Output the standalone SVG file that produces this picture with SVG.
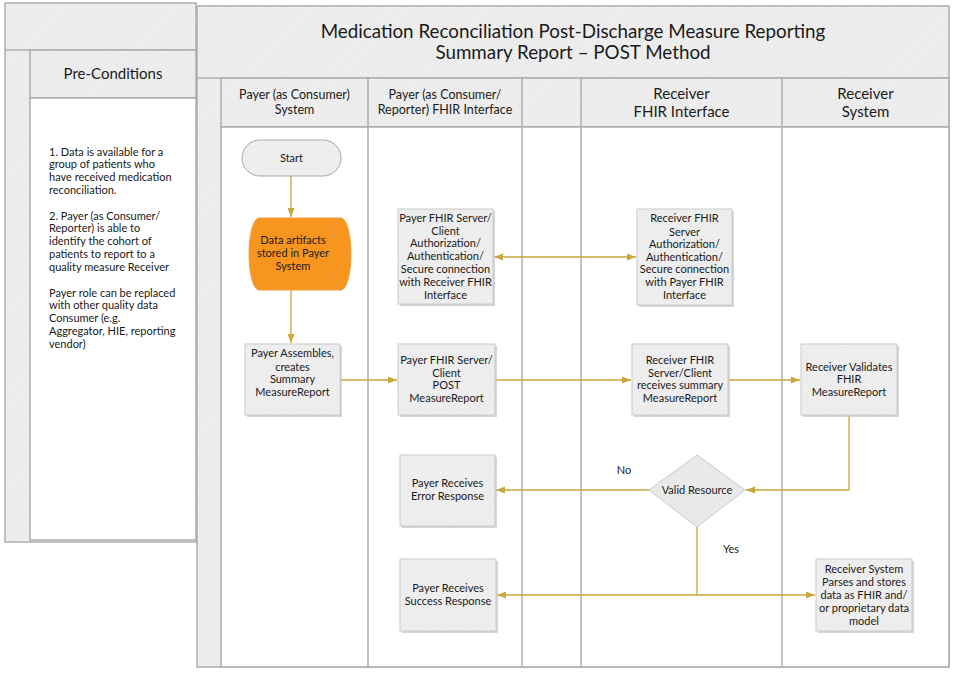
<svg xmlns="http://www.w3.org/2000/svg" width="955" height="675" viewBox="0 0 955 675">
<defs>
<pattern id="hatch" patternUnits="userSpaceOnUse" width="4" height="4" patternTransform="rotate(45)">
<rect width="4" height="4" fill="#EEEEEE"/>
<line x1="0" y1="0" x2="0" y2="4" stroke="#E7E7E7" stroke-width="1.5"/>
</pattern>
<pattern id="hatchBox" patternUnits="userSpaceOnUse" width="4" height="4" patternTransform="rotate(45)">
<rect width="4" height="4" fill="#EFEFEF"/>
<line x1="0" y1="0" x2="0" y2="4" stroke="#E8E8E8" stroke-width="1.5"/>
</pattern>
<marker id="arr" markerUnits="userSpaceOnUse" markerWidth="10" markerHeight="8" refX="9" refY="4" orient="auto-start-reverse">
<path d="M0,0.5 L9,4 L0,7.5 z" fill="#C9A73E"/>
</marker>
</defs>
<style>
text{font-family:Lato,"Open Sans","Liberation Sans",sans-serif;fill:#1A1A1A;}
.band{fill:url(#hatch);stroke:#ABAFAF;stroke-width:1.5;}
.body{fill:#FFFFFF;stroke:#ABAFAF;stroke-width:1.5;}
.lane{stroke:#ABAFAF;stroke-width:1.5;fill:none;}
.title{font-size:18.8px;text-anchor:middle;}
.lh{font-size:12.5px;text-anchor:middle;}
.lhb{font-size:15px;text-anchor:middle;}
.pre{font-size:11px;}
.box{fill:url(#hatchBox);stroke:#C9C9C9;stroke-width:1;}
.shadow{fill:#C4C4C4;opacity:0.7;}
.nt{font-size:11px;text-anchor:middle;}
.lbl{font-size:11px;text-anchor:middle;}
.conn{stroke:#C9A73E;stroke-width:1.3;fill:none;}
</style>

<g id="preconditions-panel">
<rect class="band" x="5" y="3" width="191" height="539"/>
<line class="lane" x1="5" y1="50" x2="196" y2="50"/>
<rect class="band" x="30" y="50" width="166" height="48"/>
<rect class="body" x="30" y="98" width="166" height="442"/>
<text x="113" y="78.5" style="font-size:15px;text-anchor:middle;">Pre-Conditions</text>
<text class="pre" x="49" y="155.5">1. Data is available for a</text>
<text class="pre" x="49" y="168.3">group of patients who</text>
<text class="pre" x="49" y="181">have received medication</text>
<text class="pre" x="49" y="193.8">reconciliation.</text>
<text class="pre" x="49" y="219.5">2. Payer (as Consumer/</text>
<text class="pre" x="49" y="232.3">Reporter) is able to</text>
<text class="pre" x="49" y="245">identify the cohort of</text>
<text class="pre" x="49" y="257.8">patients to report to a</text>
<text class="pre" x="49" y="270.5">quality measure Receiver</text>
<text class="pre" x="49" y="296.5">Payer role can be replaced</text>
<text class="pre" x="49" y="309.3">with other quality data</text>
<text class="pre" x="49" y="322">Consumer (e.g.</text>
<text class="pre" x="49" y="334.8">Aggregator, HIE, reporting</text>
<text class="pre" x="49" y="347.5">vendor)</text>
</g>

<g id="main-panel">
<rect class="band" x="197" y="6" width="752" height="661"/>
<line class="lane" x1="197" y1="78" x2="949" y2="78"/>
<rect class="band" x="221" y="78" width="728" height="49"/>
<rect class="body" x="221" y="127" width="728" height="540"/>
<line class="lane" x1="368" y1="78" x2="368" y2="667"/>
<line class="lane" x1="522" y1="78" x2="522" y2="667"/>
<line class="lane" x1="581" y1="78" x2="581" y2="667"/>
<line class="lane" x1="782" y1="78" x2="782" y2="667"/>
<text class="title" x="573" y="37.5">Medication Reconciliation Post-Discharge Measure Reporting</text>
<text class="title" x="573" y="59">Summary Report – POST Method</text>
<text class="lh" x="294.5" y="98.5">Payer (as Consumer)</text>
<text class="lh" x="294.5" y="113.8">System</text>
<text class="lh" x="445" y="98.5">Payer (as Consumer/</text>
<text class="lh" x="445" y="113.8">Reporter) FHIR Interface</text>
<text class="lhb" x="681.5" y="98.5">Receiver</text>
<text class="lhb" x="681.5" y="117">FHIR Interface</text>
<text class="lhb" x="865.5" y="98.5">Receiver</text>
<text class="lhb" x="865.5" y="117">System</text>
</g>

<g id="connectors">
<line class="conn" x1="291" y1="176" x2="291" y2="217" marker-end="url(#arr)"/>
<line class="conn" x1="291" y1="290" x2="291" y2="343" marker-end="url(#arr)"/>
<line class="conn" x1="494" y1="257" x2="636" y2="257" marker-start="url(#arr)" marker-end="url(#arr)"/>
<line class="conn" x1="340" y1="380" x2="397" y2="380" marker-end="url(#arr)"/>
<line class="conn" x1="495" y1="380" x2="631" y2="380" marker-end="url(#arr)"/>
<line class="conn" x1="728" y1="380" x2="800" y2="380" marker-end="url(#arr)"/>
<polyline class="conn" points="849,415 849,490 746,490" marker-end="url(#arr)"/>
<line class="conn" x1="650" y1="490" x2="496" y2="490" marker-end="url(#arr)"/>
<line class="conn" x1="697" y1="527" x2="697" y2="595"/>
<line class="conn" x1="697" y1="595" x2="497" y2="595" marker-end="url(#arr)"/>
<line class="conn" x1="697" y1="595" x2="815" y2="595" marker-end="url(#arr)"/>
<text class="lbl" x="624" y="474">No</text>
<text class="lbl" x="731" y="553">Yes</text>
</g>

<g id="start">
<rect x="242" y="140" width="99" height="36" rx="18" ry="18" fill="#EEEEEE" stroke="#A8A8A8" stroke-width="1"/>
<text class="nt" x="291.5" y="162">Start</text>
</g>

<g id="data-artifacts">
<path d="M259,218 H341 A10,36 0 0 1 341,290 H259 A10,36 0 0 1 259,218 Z" fill="#F7951F" stroke="#F0A040" stroke-width="1"/>
<path d="M341,218 A10,36 0 0 0 341,290" fill="none" stroke="#E39A48" stroke-width="1"/>
<text class="nt" x="293" y="244">Data artifacts</text>
<text class="nt" x="293" y="257">stored in Payer</text>
<text class="nt" x="293" y="270">System</text>
</g>

<g id="payer-auth">
<rect class="shadow" x="400" y="211" width="95" height="95"/>
<rect class="box" x="398" y="209" width="95" height="95"/>
<text class="nt" x="445.5" y="222.3">Payer FHIR Server/</text>
<text class="nt" x="445.5" y="235">Client</text>
<text class="nt" x="445.5" y="247.3">Authorization/</text>
<text class="nt" x="445.5" y="260">Authentication/</text>
<text class="nt" x="445.5" y="273">Secure connection</text>
<text class="nt" x="445.5" y="286">with Receiver FHIR</text>
<text class="nt" x="445.5" y="298.7">Interface</text>
</g>

<g id="receiver-auth">
<rect class="shadow" x="639" y="211" width="95" height="96"/>
<rect class="box" x="637" y="209" width="95" height="96"/>
<text class="nt" x="684.5" y="222.3">Receiver FHIR</text>
<text class="nt" x="684.5" y="235.7">Server</text>
<text class="nt" x="684.5" y="248">Authorization/</text>
<text class="nt" x="684.5" y="260.7">Authentication/</text>
<text class="nt" x="684.5" y="273.3">Secure connection</text>
<text class="nt" x="684.5" y="286">with Payer FHIR</text>
<text class="nt" x="684.5" y="299.3">Interface</text>
</g>

<g id="payer-assembles">
<rect class="shadow" x="247" y="346" width="95" height="71"/>
<rect class="box" x="245" y="344" width="95" height="71"/>
<text class="nt" x="292.5" y="357">Payer Assembles,</text>
<text class="nt" x="292.5" y="370.7">creates</text>
<text class="nt" x="292.5" y="383.3">Summary</text>
<text class="nt" x="292.5" y="396.3">MeasureReport</text>
</g>

<g id="payer-post">
<rect class="shadow" x="400" y="346" width="97" height="71"/>
<rect class="box" x="398" y="344" width="97" height="71"/>
<text class="nt" x="446.5" y="364">Payer FHIR Server/</text>
<text class="nt" x="446.5" y="376.7">Client</text>
<text class="nt" x="446.5" y="389.3">POST</text>
<text class="nt" x="446.5" y="402.3">MeasureReport</text>
</g>

<g id="receiver-receives">
<rect class="shadow" x="634" y="346" width="96" height="71"/>
<rect class="box" x="632" y="344" width="96" height="71"/>
<text class="nt" x="680" y="364">Receiver FHIR</text>
<text class="nt" x="680" y="376.7">Server/Client</text>
<text class="nt" x="680" y="389.3">receives summary</text>
<text class="nt" x="680" y="402.3">MeasureReport</text>
</g>

<g id="receiver-validates">
<rect class="shadow" x="803" y="346" width="96" height="71"/>
<rect class="box" x="801" y="344" width="96" height="71"/>
<text class="nt" x="849" y="370.7">Receiver Validates</text>
<text class="nt" x="849" y="383.3">FHIR</text>
<text class="nt" x="849" y="396.3">MeasureReport</text>
</g>

<g id="valid-resource">
<polygon points="697,455 745,490 697,527 649,490" fill="#E9E9E9" stroke="#C9C9C9" stroke-width="1"/>
<text class="nt" x="697" y="494">Valid Resource</text>
</g>

<g id="error-response">
<rect class="shadow" x="402" y="457" width="95" height="71"/>
<rect class="box" x="400" y="455" width="95" height="71"/>
<text class="nt" x="447.5" y="487.3">Payer Receives</text>
<text class="nt" x="447.5" y="500">Error Response</text>
</g>

<g id="success-response">
<rect class="shadow" x="402" y="561" width="96" height="72"/>
<rect class="box" x="400" y="559" width="96" height="72"/>
<text class="nt" x="448" y="592.3">Payer Receives</text>
<text class="nt" x="448" y="605">Success Response</text>
</g>

<g id="receiver-system-stores">
<rect class="shadow" x="818" y="561" width="96" height="72"/>
<rect class="box" x="816" y="559" width="96" height="72"/>
<text class="nt" x="864" y="573.3">Receiver System</text>
<text class="nt" x="864" y="586">Parses and stores</text>
<text class="nt" x="864" y="599">data as FHIR and/</text>
<text class="nt" x="864" y="612">or proprietary data</text>
<text class="nt" x="864" y="624.7">model</text>
</g>
</svg>
